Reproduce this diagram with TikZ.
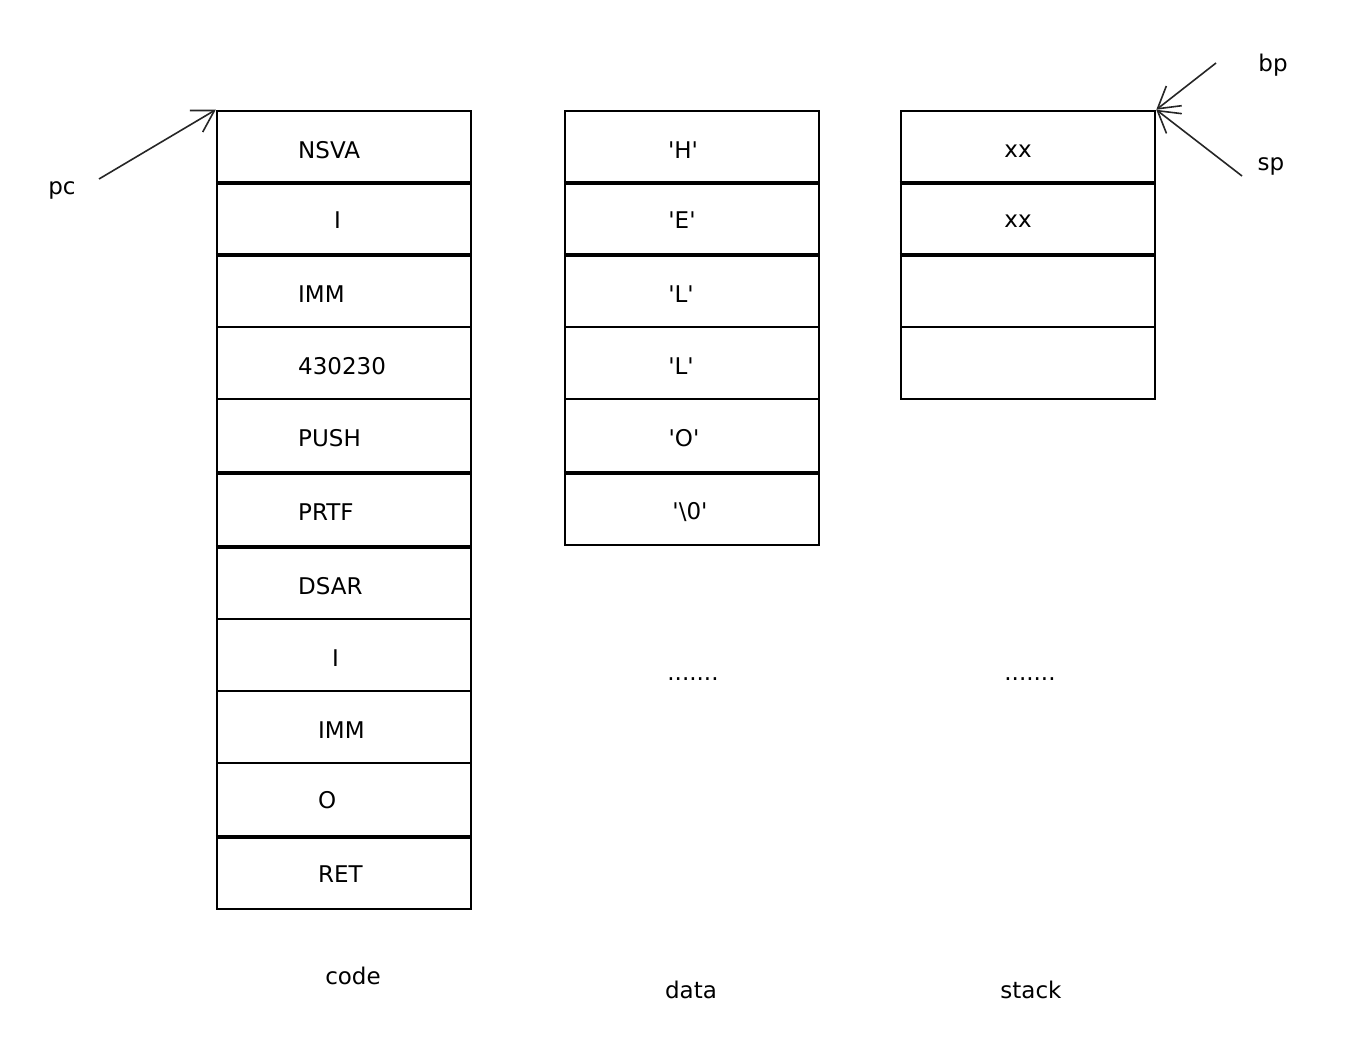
\documentclass[tikz,border=0pt]{standalone}
\usepackage{fontspec}
\setmainfont{DejaVu Sans}[Ligatures=TeXOff]
\usetikzlibrary{arrows.meta}
\tikzset{
  cell/.style={draw=black, line width=2.5pt, minimum width=254pt, inner sep=0pt, fill=none},
  sepline/.style={draw=black, line width=4pt},
  lbl/.style={inner sep=0pt, font=\fontsize{23}{28}\selectfont, text=black},
  ptr/.style={draw=black!85, line width=1.6pt, -{Straight Barb[length=21pt, width=25pt, line width=1.6pt]}}
}
\begin{document}
\begin{tikzpicture}[x=1pt, y=-1pt]
\useasboundingbox[fill=white] (0,0) rectangle (1364,1062);

% ---- code column (x 217..471)
\node[cell, minimum height=71pt] (code1)  at (344,146.5) {};
\node[cell, minimum height=72pt] (code2)  at (344,218) {};
\node[cell, minimum height=73pt] (code3)  at (344,290.5) {};
\node[cell, minimum height=72pt] (code4)  at (344,363) {};
\node[cell, minimum height=73pt] (code5)  at (344,435.5) {};
\node[cell, minimum height=74pt] (code6)  at (344,509) {};
\node[cell, minimum height=73pt] (code7)  at (344,582.5) {};
\node[cell, minimum height=72pt] (code8)  at (344,655) {};
\node[cell, minimum height=72pt] (code9)  at (344,727) {};
\node[cell, minimum height=73pt] (code10) at (344,799.5) {};
\node[cell, minimum height=73pt] (code11) at (344,872.5) {};
\foreach \n in {code1,code2,code5,code6,code10}
  \draw[sepline] (\n.south west) -- (\n.south east);

% ---- data column (x 565..819)
\node[cell, minimum height=71pt] (data1) at (692,146.5) {};
\node[cell, minimum height=72pt] (data2) at (692,218) {};
\node[cell, minimum height=73pt] (data3) at (692,290.5) {};
\node[cell, minimum height=72pt] (data4) at (692,363) {};
\node[cell, minimum height=73pt] (data5) at (692,435.5) {};
\node[cell, minimum height=73pt] (data6) at (692,508.5) {};
\foreach \n in {data1,data2,data5}
  \draw[sepline] (\n.south west) -- (\n.south east);

% ---- stack column (x 901..1155)
\node[cell, minimum height=71pt] (stack1) at (1028,146.5) {};
\node[cell, minimum height=72pt] (stack2) at (1028,218) {};
\node[cell, minimum height=73pt] (stack3) at (1028,290.5) {};
\node[cell, minimum height=72pt] (stack4) at (1028,363) {};
\foreach \n in {stack1,stack2}
  \draw[sepline] (\n.south west) -- (\n.south east);

% ---- code texts
\node[lbl, anchor=base west] (tc1)  at (298,158.5) {NSVA};
\node[lbl, anchor=base west] (tc2)  at (334,228.5) {I};
\node[lbl, anchor=base west] (tc3)  at (298,302.5) {IMM};
\node[lbl, anchor=base west] (tc4)  at (298,374.5) {430230};
\node[lbl, anchor=base west] (tc5)  at (298,446.5) {PUSH};
\node[lbl, anchor=base west] (tc6)  at (298,520.5) {PRTF};
\node[lbl, anchor=base west] (tc7)  at (298,594.5) {DSAR};
\node[lbl, anchor=base west] (tc8)  at (332,666.5) {I};
\node[lbl, anchor=base west] (tc9)  at (318,738.5) {IMM};
\node[lbl, anchor=base west] (tc10) at (318,808.5) {O};
\node[lbl, anchor=base west] (tc11) at (318,882.5) {RET};

% ---- data texts
\node[lbl, anchor=base] (td1) at (683,158.5) {'H'};
\node[lbl, anchor=base] (td2) at (682,228.5) {'E'};
\node[lbl, anchor=base] (td3) at (681,302.5) {'L'};
\node[lbl, anchor=base] (td4) at (681,374.5) {'L'};
\node[lbl, anchor=base] (td5) at (684,446.5) {'O'};
\node[lbl, anchor=base] (td6) at (690,519) {'\textbackslash 0'};
\node[lbl, anchor=base] (tddots) at (693,680) {.......};

% ---- stack texts
\node[lbl, anchor=base] (ts1) at (1018,157.5) {xx};
\node[lbl, anchor=base] (ts2) at (1018,227.5) {xx};
\node[lbl, anchor=base] (tsdots) at (1030,680) {.......};

% ---- captions
\node[lbl, anchor=base] (capcode)  at (353,984) {code};
\node[lbl, anchor=base] (capdata)  at (691,998) {data};
\node[lbl, anchor=base] (capstack) at (1031,998) {stack};

% ---- pointers
\node[lbl, anchor=base] (pc) at (62,194) {pc};
\node[lbl, anchor=base] (bp) at (1273,72) {bp};
\node[lbl, anchor=base] (sp) at (1271,170) {sp};
\coordinate (pcfrom) at (99,179);
\coordinate (bpfrom) at (1216,63);
\coordinate (spfrom) at (1242,176);
\draw[ptr] (pcfrom) -- (code1.north west);
\draw[ptr] (bpfrom) -- (stack1.north east);
\draw[ptr] (spfrom) -- (stack1.north east);
\end{tikzpicture}
\end{document}
